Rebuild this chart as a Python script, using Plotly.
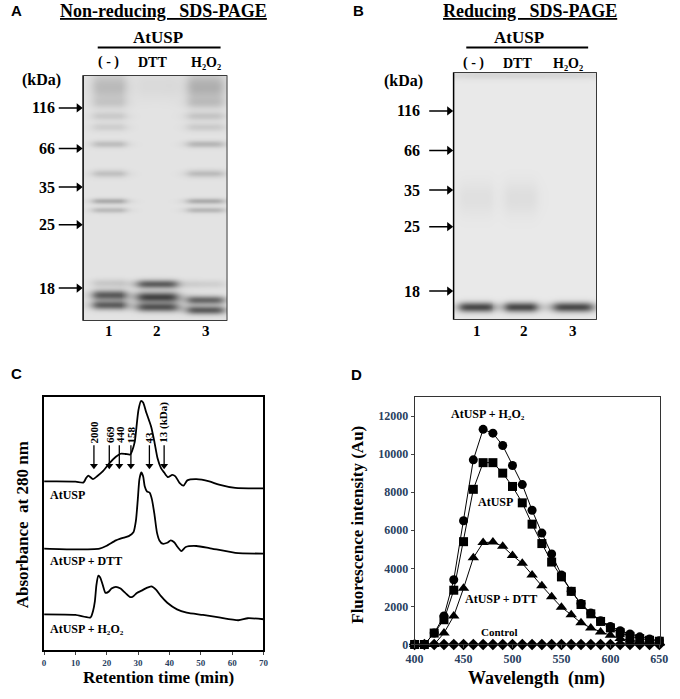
import numpy as np
import plotly.graph_objects as go

W, H = 680, 699
SERIF = "Liberation Serif"
SANS = "Liberation Sans"
H2O2 = "H\u2082O\u2082"

# ---------------- A / B: SDS-PAGE gels (gel pixel units, row 0 = top of gel) -------------
marker_kda = ["116", "66", "35", "25", "18"]
gel_a_marker_rows = [33, 74, 113, 151, 215]
gel_b_marker_rows = [39, 79, 119, 156, 221]
lane_names = ["( - )", "DTT", H2O2]
lane_numbers = ["1", "2", "3"]

gel_a_lane_x = [27, 76, 125]
gel_a_lane_w = [35, 42, 38]
gel_a_band_lane = [0, 0, 0, 0, 0, 0, 0, 0, 0, 0, 0,
                   1, 1, 1, 1,
                   2, 2, 2, 2, 2, 2, 2, 2, 2, 2, 2]
gel_a_band_row = [12, 28, 41, 52, 69, 99, 127, 136, 210, 222, 232,
                  10, 211, 224, 234,
                  12, 28, 41, 52, 69, 99, 127, 136, 211, 227, 237]
gel_a_band_int = [0.22, 0.10, 0.13, 0.11, 0.20, 0.19, 0.30, 0.22, 0.14, 0.72, 0.70,
                  0.05, 0.72, 0.85, 0.75,
                  0.28, 0.13, 0.16, 0.13, 0.24, 0.22, 0.30, 0.24, 0.10, 0.66, 0.72]
gel_a_band_sig = [10, 4, 3, 3, 2.5, 3, 2, 2, 3, 3.5, 3.2,
                  10, 3, 3.6, 3.2,
                  10, 4, 3, 3, 2.5, 3, 2, 2, 3, 3, 3]

gel_b_lane_x = [23, 69, 122, 73.5]
gel_b_lane_w = [35, 34, 41, 170]
gel_b_band_lane = [3, 0, 1, 0, 1, 2]
gel_b_band_row = [3, 127, 127, 237, 237, 237]
gel_b_band_int = [0.10, 0.05, 0.06, 0.85, 0.85, 0.85]
gel_b_band_sig = [3, 12, 12, 3.5, 3.5, 3.5]

# ---------------- C: gel filtration (retention time, min / absorbance, a.u.) -------------
c_usp_t = [0, 4, 10, 12.6, 13.4, 14.1, 15.6, 17, 18.7, 20.8, 22.9, 24.4, 26, 27.5,
           28.5, 29.0, 30.1, 30.9, 31.6, 32.6, 34.2, 35.2, 36.2, 37.3, 38.3, 39.5,
           40.9, 41.9, 43.2, 44.5, 45.7, 48.6, 52.7, 55.8, 61, 70]
c_usp_a = [66.7, 66.7, 66.6, 66.3, 68.0, 69.0, 67.6, 68.8, 70.6, 73.8, 76.4, 77.6, 77.5, 77.3,
           80.3, 82.9, 94.8, 98.4, 97.8, 93.9, 88.1, 82.3, 75.8, 71.9, 70.2, 68.4,
           69.3, 68.7, 66.1, 65.0, 67.1, 67.6, 66.7, 65.4, 64.1, 63.9]

c_dtt_t = [0, 9.5, 17.7, 19.8, 22.9, 24.9, 27, 28.5, 29.3, 29.9, 30.4, 31.0, 31.6, 32.1,
           32.8, 33.7, 34.4, 35.2, 36.0, 36.8, 37.8, 39.3, 40.4, 41.5, 42.6, 43.8,
           45.2, 48.6, 52.7, 61, 70]
c_dtt_a = [40.2, 39.9, 40.2, 41.2, 43.4, 44.3, 45.1, 46.6, 51.2, 59.6, 67.4, 70.2, 68.7, 64.8,
           62.8, 62.2, 59.6, 53.8, 46.6, 43.4, 42.1, 42.5, 43.4, 42.7, 40.8, 39.2,
           40.8, 41.2, 40.4, 38.5, 38.2]

c_h2o2_t = [0, 10, 14.8, 15.6, 16.2, 16.7, 17.3, 17.9, 18.7, 19.6, 20.5, 21.5, 22.9, 24.4,
            25.9, 27.5, 28.5, 29.6, 31.1, 32.6, 34.2, 35.7, 37.3, 39.3, 42.4, 45.5,
            50.7, 55.8, 62, 65, 70]
c_h2o2_a = [14.2, 14.0, 13.0, 15.5, 19.4, 25.9, 29.5, 28.8, 25.9, 22.7, 23.1, 24.4, 25.1, 24.4,
            22.7, 21.0, 21.4, 22.7, 23.6, 24.6, 25.3, 24.0, 21.4, 18.8, 16.2, 14.9,
            14.0, 13.0, 11.9, 12.7, 12.3]

mw_labels = ["2000", "669", "440", "158", "43", "13 (kDa)"]
mw_times = [15.9, 20.8, 24.0, 27.7, 33.6, 38.3]
mw_tip = 71.6

# ---------------- D: fluorescence spectra (nm / Au) -------------
wavelength = [400, 410, 420, 430, 440, 450, 460, 470, 480, 490, 500, 510, 520,
              530, 540, 550, 560, 570, 580, 590, 600, 610, 620, 630, 640, 650]
fl_h2o2 = [0, 0, 600, 1500, 3400, 6500, 9700, 11300, 11100, 10450, 9400, 8400, 7050,
           5850, 4750, 3650, 2800, 2150, 1650, 1250, 950, 720, 550, 400, 290, 200]
fl_usp = [0, 0, 600, 1300, 2850, 5400, 8150, 9550, 9550, 9000, 8300, 7440, 6320,
          5300, 4330, 3550, 2790, 2100, 1610, 1210, 870, 620, 430, 310, 220, 170]
fl_dtt = [0, 0, 0, 600, 1500, 2950, 4550, 5350, 5380, 5160, 4680, 4260, 3650,
          3080, 2510, 1960, 1560, 1140, 870, 660, 480, 310, 220, 150, 100, 80]
fl_ctrl = [0, 0, 0, 0, 0, 0, 0, 0, 0, 0, 0, 0, 0,
           0, 0, 0, 0, 0, 0, 0, 0, 0, 0, 0, 0, 0]


def px(x):
    return x / W


def py(y):
    return 1 - y / H


def gel_image(n_cols, n_rows, lane_x, lane_w, b_lane, b_row, b_int, b_sig):
    cols = np.arange(n_cols) + 0.5
    rows = np.arange(n_rows) + 0.5
    z = np.zeros((n_rows, n_cols))
    for ln, r, a, s in zip(b_lane, b_row, b_int, b_sig):
        across = 1 / (1 + ((cols - lane_x[ln]) / (lane_w[ln] / 2)) ** 6)
        down = np.exp(-0.5 * ((rows - r) / s) ** 2)
        z += a * np.outer(down, across)
    return cols, rows, np.clip(z, 0, 1)


def gap_segments(xs0, xs1, ys0, ys1):
    xs, ys = [], []
    for a, b, c, d in zip(xs0, xs1, ys0, ys1):
        xs += [a, b, None]
        ys += [c, d, None]
    return xs, ys


fig = go.Figure()
gray = [[0, "#e9e9e9"], [1, "#2e2e2e"]]
arrow_line = dict(color="black", width=1.5)

# gels; each x-axis also spans the marker arrows left of the gel (1 unit = 1 px)
gels = [
    ("x", "y", 148, 248, 0.03, gel_a_marker_rows,
     (gel_a_lane_x, gel_a_lane_w, gel_a_band_lane, gel_a_band_row, gel_a_band_int, gel_a_band_sig)),
    ("x2", "y2", 147, 250, 0.0, gel_b_marker_rows,
     (gel_b_lane_x, gel_b_lane_w, gel_b_band_lane, gel_b_band_row, gel_b_band_int, gel_b_band_sig)),
]
for xa, ya, nc, nr, base, rows, bands in gels:
    cols, rr, z = gel_image(nc, nr, *bands)
    fig.add_trace(go.Heatmap(x=cols, y=rr, z=z + base, zmin=0, zmax=1, colorscale=gray,
                             showscale=False, hoverinfo="skip", zsmooth="best",
                             xaxis=xa, yaxis=ya))
    sx, sy = gap_segments([-25] * len(rows), [-3] * len(rows), rows, rows)
    fig.add_trace(go.Scatter(x=sx, y=sy, mode="lines", line=arrow_line, xaxis=xa, yaxis=ya,
                             hoverinfo="skip", showlegend=False))
    fig.add_trace(go.Scatter(x=[-4.5] * len(rows), y=rows, mode="markers",
                             marker=dict(symbol="triangle-right", size=8, color="black"),
                             cliponaxis=False, xaxis=xa, yaxis=ya, hoverinfo="skip",
                             showlegend=False))
    fig.add_shape(type="rect", xref=xa, yref=ya, x0=0, x1=nc, y0=0, y1=nr,
                  line=dict(color="black", width=1.5))

# C traces
for t, a in [(c_usp_t, c_usp_a), (c_dtt_t, c_dtt_a), (c_h2o2_t, c_h2o2_a)]:
    fig.add_trace(go.Scatter(x=t, y=a, mode="lines",
                             line=dict(color="black", width=1.8, shape="spline", smoothing=0.6),
                             xaxis="x3", yaxis="y3", showlegend=False, hoverinfo="skip"))
arrow_len_c = 9.4  # y-units (~24 px)
sx, sy = gap_segments(mw_times, mw_times, [mw_tip + arrow_len_c] * len(mw_times),
                      [mw_tip + 1.5] * len(mw_times))
fig.add_trace(go.Scatter(x=sx, y=sy, mode="lines", line=dict(color="black", width=1.3),
                         xaxis="x3", yaxis="y3", hoverinfo="skip", showlegend=False))
fig.add_trace(go.Scatter(x=mw_times, y=[mw_tip + 1.3] * len(mw_times), mode="markers",
                         marker=dict(symbol="triangle-down", size=7, color="black"),
                         xaxis="x3", yaxis="y3", hoverinfo="skip", showlegend=False))

# D traces
for vals, sym, size in [(fl_ctrl, "diamond", 9), (fl_dtt, "triangle-up", 10),
                        (fl_usp, "square", 9), (fl_h2o2, "circle", 9)]:
    fig.add_trace(go.Scatter(x=wavelength, y=vals, mode="lines+markers",
                             line=dict(color="black", width=1),
                             marker=dict(symbol=sym, size=size, color="black"),
                             cliponaxis=False, xaxis="x4", yaxis="y4", showlegend=False))

box = dict(showline=True, mirror=True, linecolor="black", zeroline=False, showgrid=False)
gel_ax = dict(showline=False, zeroline=False, showgrid=False, showticklabels=False, ticks="")
tick_font_d = dict(family=SERIF, size=12, weight="bold")
fig.update_layout(
    width=W, height=H, margin=dict(l=0, r=0, t=0, b=0),
    paper_bgcolor="white", plot_bgcolor="white", showlegend=False,
    xaxis=dict(gel_ax, domain=[px(49), px(224)], range=[-27, 148]),
    yaxis=dict(gel_ax, domain=[py(324), py(76)], range=[248, 0]),
    xaxis2=dict(gel_ax, domain=[px(424), px(603)], range=[-32, 147]),
    yaxis2=dict(gel_ax, domain=[py(323), py(73)], range=[250, 0]),
    xaxis3=dict(box, linewidth=2, domain=[px(36), px(261)], range=[0, 70], dtick=10,
                ticks="outside", ticklen=3, tickwidth=1,
                tickfont=dict(family=SERIF, size=9, weight="bold"), anchor="y3"),
    yaxis3=dict(box, linewidth=2, domain=[py(657), py(401)], range=[0, 100],
                showticklabels=False, ticks="", anchor="x3"),
    xaxis4=dict(box, linewidth=1, linecolor="#333", domain=[px(416), px(668)], range=[400, 651],
                tickvals=[400, 450, 500, 550, 600, 650], ticks="outside", ticklen=3,
                tickfont=tick_font_d, anchor="y4"),
    yaxis4=dict(box, linewidth=1, linecolor="#333", domain=[py(651), py(401)], range=[0, 13000],
                tickvals=[0, 2000, 4000, 6000, 8000, 10000, 12000], tickformat="d",
                ticks="outside", ticklen=3, tickfont=tick_font_d, anchor="x4"),
)

ann = []


def text(x, y, s, size, anchor="center", family=SERIF, angle=0, under=False, **kw):
    f = dict(family=family, size=size, color="black", weight="bold")
    if under:
        f["lineposition"] = "under"
    d = dict(x=x, y=y, xref=kw.pop("xref", "paper"), yref=kw.pop("yref", "paper"),
             text=s, showarrow=False, font=f, xanchor=anchor,
             yanchor=kw.pop("yanchor", "middle"), textangle=angle)
    d.update(kw)
    ann.append(d)


# panel letters
for letter, x0, y0 in [("A", 8, 11), ("B", 358, 11), ("C", 8, 377), ("D", 356, 378)]:
    text(px(x0), py(y0), letter, 15, "center", family=SANS)

# gel headers
text(px(158), py(11), "Non-reducing   SDS-PAGE", 18, under=True)
text(px(534), py(11), "Reducing   SDS-PAGE", 18, under=True)
text(px(153), py(38), "AtUSP", 17)
text(px(523), py(38), "AtUSP", 17)
for i, lx in enumerate([102, 147, 202]):
    text(px(lx), py(63), lane_names[i], 14)
for i, lx in enumerate([476, 522, 573]):
    text(px(lx), py(64), lane_names[i], 14)
for i, lx in enumerate([103, 152, 202]):
    text(px(lx), py(334), lane_numbers[i], 15)
for i, lx in enumerate([480, 528, 578]):
    text(px(lx), py(334), lane_numbers[i], 15)
text(px(33), py(81), "(kDa)", 16)
text(px(405), py(82), "(kDa)", 16)

# marker sizes next to the arrows
for xa, ya, rows, xl in [("x", "y", gel_a_marker_rows, -27), ("x2", "y2", gel_b_marker_rows, -32)]:
    for k, r in zip(marker_kda, rows):
        text(xl, r, k, 16, "right", xref=xa, yref=ya)

# C labels
for lab, t in zip(mw_labels, mw_times):
    text(t, mw_tip + arrow_len_c, lab, 11, "center", angle=-90, xref="x3", yref="y3",
         yanchor="bottom")
text(px(40), py(500), "AtUSP", 12, "left")
text(px(40), py(567), "AtUSP + DTT", 12, "left")
text(px(40), py(635), "AtUSP + " + H2O2, 12, "left")
text(px(153), py(684), "Retention time (min)", 17)
text(px(14), py(530), "Absorbance  at 280 nm", 17, angle=-90)

# D labels
text(474.7, 12100, "AtUSP + " + H2O2, 12, xref="x4", yref="y4")
text(482.7, 7490, "AtUSP", 12, xref="x4", yref="y4")
text(488.6, 2390, "AtUSP + DTT", 12, xref="x4", yref="y4")
text(486.7, 680, "Control", 11, xref="x4", yref="y4")
text(px(541), py(685), "Wavelength  (nm)", 18)
text(px(358), py(530), "Fluorescence intensity (Au)", 17, angle=-90)

fig.update_layout(annotations=ann)

# bars below "AtUSP" spanning the three lanes
for x0, x1 in [(91, 217), (469, 594)]:
    fig.add_shape(type="line", xref="paper", yref="paper", x0=px(x0), x1=px(x1),
                  y0=py(48), y1=py(48), line=dict(color="black", width=2))

fig.write_html("out.html", config={"displayModeBar": False},
               post_script="document.body.style.margin='0px';")
